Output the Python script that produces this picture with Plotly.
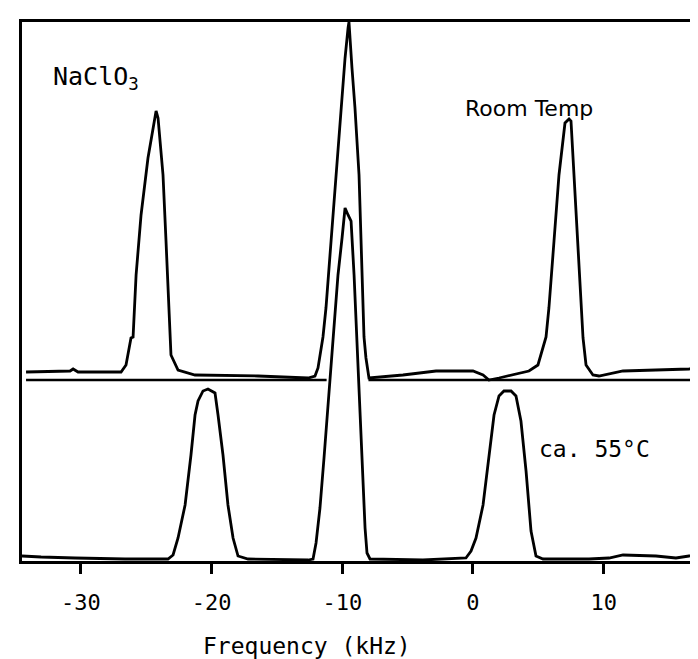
import plotly.graph_objects as go

# ---- data (frequency in kHz, intensity in arbitrary units) ----
room_temp_khz = [-34.20, -30.83, -30.60, -30.22, -26.93, -26.55, -26.17, -26.01, -25.78, -25.40,
                 -24.87, -24.25, -24.10, -23.72, -23.49, -23.18, -23.11, -22.57, -21.27, -16.45,
                 -12.62, -12.09, -11.86, -11.48, -11.25, -10.86, -10.48, -10.10, -9.79, -9.56,
                 -9.49, -9.26, -9.03, -8.72, -8.57, -8.42, -8.34, -8.19, -7.96, -5.36,
                 -2.83, 0.00, 0.77, 1.22, 1.99, 4.28, 4.97, 5.59, 5.81, 6.20,
                 6.58, 7.04, 7.35, 7.50, 7.73, 8.03, 8.26, 8.42, 8.65, 9.18,
                 9.64, 11.48, 14.00, 16.53, 17.60]
room_temp_int = [0, 1, 3, 0, 0, 7, 34, 35, 97, 157,
                 214, 261, 254, 197, 131, 35, 17, 2, -3, -4,
                 -6, -4, 4, 35, 64, 131, 197, 264, 314, 344,
                 350, 304, 264, 197, 131, 64, 35, 14, -6, -3,
                 1, 1, -3, -8, -6, 1, 7, 35, 64, 131,
                 197, 249, 253, 251, 197, 131, 64, 34, 7, -3,
                 -4, 1, 2, 3, 5]
room_temp_offset = 189

hot_khz = [-34.51, -33.05, -30.45, -26.63, -23.34, -22.95, -22.57, -22.03, -21.58, -21.27,
           -21.04, -20.66, -20.28, -19.74, -19.51, -19.13, -18.75, -18.36, -17.98, -17.21,
           -12.62, -12.24, -12.01, -11.71, -11.40, -11.09, -10.71, -10.33, -10.02, -9.79,
           -9.56, -9.33, -9.10, -8.88, -8.65, -8.42, -8.26, -8.11, -7.88, -3.83,
           -0.54, -0.15, 0.23, 0.77, 1.22, 1.61, 1.99, 2.37, 2.91, 3.29,
           3.67, 4.06, 4.44, 4.82, 5.36, 8.88, 10.41, 11.48, 14.00, 15.53,
           16.53, 17.44]
hot_int = [5, 4, 3, 2, 2, 6, 23, 56, 106, 146,
           160, 170, 172, 168, 146, 106, 56, 23, 5, 2,
           1, 2, 18, 53, 103, 156, 223, 286, 323, 353,
           346, 340, 286, 223, 153, 83, 33, 8, 2, 1,
           3, 10, 23, 56, 106, 146, 165, 170, 170, 165,
           140, 90, 30, 5, 2, 2, 3, 6, 5, 3,
           5, 6]

separator_khz = [-34.20, -11.20, None, -8.00, 17.83]
separator_int = [181, 181, None, 181, 181]

tick_vals = [-30, -20, -10, 0, 10]
tick_labels = ["-30", "-20", "-10", "0", "10"]

x_range = [-34.51, 17.83]
y_range = [0, 539]

fig = go.Figure()
fig.add_trace(go.Scatter(x=separator_khz, y=separator_int, mode="lines",
                         line=dict(color="black", width=2.5), hoverinfo="skip"))
fig.add_trace(go.Scatter(x=hot_khz, y=hot_int, mode="lines",
                         line=dict(color="black", width=2.8)))
fig.add_trace(go.Scatter(x=room_temp_khz, y=[v + room_temp_offset for v in room_temp_int],
                         mode="lines", line=dict(color="black", width=2.8)))

mono = "DejaVu Sans Mono"
fig.update_layout(
    width=698, height=659,
    margin=dict(l=14, r=0, t=14, b=106),
    paper_bgcolor="white", plot_bgcolor="white",
    showlegend=False,
    xaxis=dict(range=x_range, tickvals=tick_vals, ticktext=tick_labels,
               showgrid=False, zeroline=False, showline=True, mirror=True,
               linecolor="black", linewidth=2.8, ticks="outside", ticklen=10,
               tickwidth=2.5, tickcolor="black", ticklabelstandoff=10,
               tickfont=dict(family=mono, size=22, color="black")),
    yaxis=dict(range=y_range, showgrid=False, zeroline=False, showline=True,
               linecolor="black", linewidth=2.8, showticklabels=False, ticks=""),
    annotations=[
        dict(text="Frequency (kHz)", x=0.4167, y=-0.158, xref="paper", yref="paper",
             xanchor="center", yanchor="middle", showarrow=False,
             font=dict(family=mono, size=23, color="black")),
        dict(text="Room Temp", x=0.7412, y=0.8386, xref="paper", yref="paper",
             xanchor="center", yanchor="middle", showarrow=False,
             font=dict(family="DejaVu Sans", size=22, color="black")),
        dict(text="ca. 55°C", x=0.8377, y=0.2078, xref="paper", yref="paper",
             xanchor="center", yanchor="middle", showarrow=False,
             font=dict(family=mono, size=23, color="black")),
        dict(text="NaClO<sub>3</sub>", x=0.0424, y=0.93, xref="paper", yref="paper",
             xanchor="left", yanchor="top", showarrow=False,
             font=dict(family=mono, size=25, color="black")),
    ],
)

fig.write_html("out.html")
